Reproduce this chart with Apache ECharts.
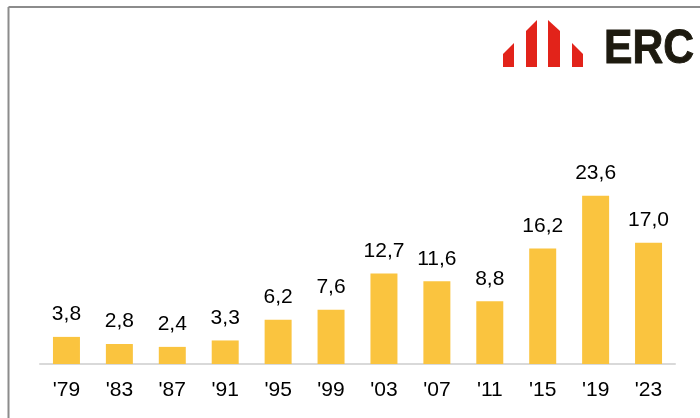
<!DOCTYPE html>
<html>
<head>
<meta charset="utf-8">
<script src="https://cdn.jsdelivr.net/npm/echarts@6/dist/echarts.min.js"></script>
<style>
  html, body { margin: 0; padding: 0; background: #fff; }
  #main { width: 700px; height: 418px; }
</style>
</head>
<body>
<div id="main"></div>
<script>
var years = ["'79", "'83", "'87", "'91", "'95", "'99", "'03", "'07", "'11", "'15", "'19", "'23"];
var votes = [3.8, 2.8, 2.4, 3.3, 6.2, 7.6, 12.7, 11.6, 8.8, 16.2, 23.6, 17.0];

var chart = echarts.init(document.getElementById('main'));
chart.setOption({
    animation: false,
    grid: { left: 40, right: 25, top: 150, bottom: 54 },
    xAxis: {
        type: 'category',
        data: years,
        axisLine: { lineStyle: { color: '#d9d9d9', width: 2 } },
        axisTick: { show: false },
        axisLabel: {
            color: '#000',
            fontSize: 21,
            fontFamily: 'Liberation Sans, Arial, sans-serif',
            margin: 16
        }
    },
    yAxis: {
        type: 'value',
        min: 0,
        max: 30,
        show: false,
        splitLine: { show: false }
    },
    series: [
        {
            type: 'bar',
            data: votes,
            barWidth: '51%',
            itemStyle: { color: '#FAC43F' },
            label: {
                show: true,
                position: 'top',
                distance: 12,
                color: '#000',
                fontSize: 21,
                fontFamily: 'Liberation Sans, Arial, sans-serif',
                formatter: function (p) {
                    return p.value.toFixed(1).replace('.', ',');
                }
            }
        }
    ],
    graphic: [
        // frame lines
        { type: 'line', shape: { x1: 8.5, y1: 7, x2: 700, y2: 7 }, style: { stroke: '#8c8c8c', lineWidth: 2 } },
        { type: 'line', shape: { x1: 8.5, y1: 7, x2: 8.5, y2: 418 }, style: { stroke: '#8c8c8c', lineWidth: 2 } },
        // logo
        { type: 'polygon', shape: { points: [[503, 54], [514, 43], [514, 67], [503, 67]] }, style: { fill: '#E2231A' } },
        { type: 'polygon', shape: { points: [[526, 31], [537, 20], [537, 67], [526, 67]] }, style: { fill: '#E2231A' } },
        { type: 'polygon', shape: { points: [[548, 20], [560, 31], [560, 67], [548, 67]] }, style: { fill: '#E2231A' } },
        { type: 'polygon', shape: { points: [[572, 43], [583, 54], [583, 67], [572, 67]] }, style: { fill: '#E2231A' } },
        {
            type: 'text',
            x: 604,
            y: 74,
            scaleX: 0.87,
            style: {
                text: 'ERC',
                fill: '#1d1a0f',
                verticalAlign: 'bottom',
                font: 'bold 49px "Liberation Sans", Arial, sans-serif',
                stroke: '#1d1a0f',
                lineWidth: 1
            }
        }
    ]
});
</script>
</body>
</html>
